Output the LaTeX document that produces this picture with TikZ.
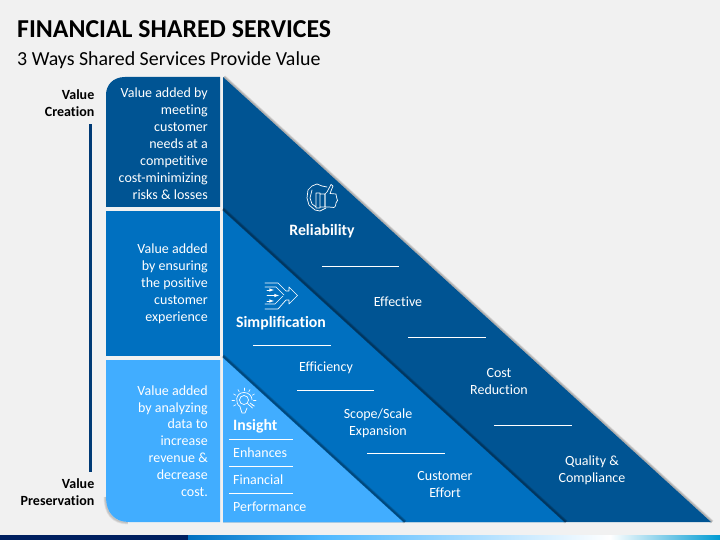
\documentclass[tikz,border=0pt]{standalone}
\usepackage{fontspec}
\setmainfont[Ligatures=NoCommon]{Carlito}
\usetikzlibrary{arrows}
\definecolor{pagegrey}{HTML}{F1F1F1}
\definecolor{darkblue}{HTML}{005493}
\definecolor{midblue}{HTML}{0070C0}
\definecolor{lightblue}{HTML}{41ADFF}
\definecolor{barblue}{HTML}{003A75}
\definecolor{navy}{HTML}{002060}

\begin{document}
\begin{tikzpicture}[x=1pt,y=-1pt]
  \tikzstyle{boxtext}=[text=white,align=right,anchor=east,inner sep=0pt,font=\fontsize{14}{16.9}\selectfont]
  \tikzstyle{celltext}=[text=white,align=center,inner sep=0pt,font=\fontsize{14}{16.9}\selectfont]
  \tikzstyle{headtext}=[text=white,inner sep=0pt,font=\fontsize{15.8}{18}\selectfont\bfseries]
  \tikzstyle{sidetext}=[text=black,align=right,anchor=east,inner sep=0pt,font=\fontsize{14}{16.9}\selectfont\bfseries]
  \tikzstyle{sepline}=[draw=white,line width=0.8pt]
  \tikzstyle{icon}=[draw=white,line width=0.7pt,line join=round,line cap=round]

  \useasboundingbox (0,0) rectangle (720,540);
  \fill[pagegrey] (0,0) rectangle (720,540);

  % title
  \node[anchor=west,inner sep=0pt,font=\fontsize{25.8}{30}\selectfont\bfseries] (title) at (17,29) {FINANCIAL SHARED SERVICES};
  \node[anchor=west,inner sep=0pt,font=\fontsize{19.9}{24}\selectfont] (subtitle) at (17,60) {3 Ways Shared Services Provide Value};

  % left boxes
  \fill[darkblue] (220,77) -- (125,77) .. controls (113,77) and (106,85) .. (106,95) -- (106,207) -- (220,207) -- cycle;
  \fill[midblue] (106,211) rectangle (220,356);
  \foreach \i in {1,...,4}
    \draw[black,opacity=0.05,line width=\i pt] (105.5,497) .. controls (105.5,513) and (113,522.5) .. (128,522.5);
  \fill[lightblue] (106,360) -- (220,360) -- (220,522) -- (129,522) .. controls (114,522) and (106,512) .. (106,497) -- cycle;

  % triangles, each with a soft shadow along its slope
  \foreach \i in {1,...,4}
    \draw[black,opacity=0.08,line width=\i pt] (224,77) -- (712,522);
  \fill[darkblue] (223,77) -- (711,522) -- (223,522) -- cycle;
  \foreach \i in {1,...,4}
    \draw[black,opacity=0.1,line width=\i pt] (223,209) -- (566,522);
  \fill[midblue] (223,211) -- (564,522) -- (223,522) -- cycle;
  \foreach \i in {1,...,4}
    \draw[black,opacity=0.1,line width=\i pt] (223,356) -- (405,522);
  \fill[lightblue] (223,358) -- (403,522) -- (223,522) -- cycle;

  % side scale
  \node[sidetext] (creation) at (94.5,103) {Value\\Creation};
  \node[sidetext] (preservation) at (94.5,492) {Value\\Preservation};
  \fill[barblue] (89,124) rectangle (92,472);

  % box texts
  \node[boxtext] (boxa) at (208,143.5) {Value added by\\meeting\\customer\\needs at a\\competitive\\cost-minimizing\\risks \& losses};
  \node[boxtext] (boxb) at (208,284) {Value added\\by ensuring\\the positive\\customer\\experience};
  \node[boxtext] (boxc) at (208,441) {Value added\\by analyzing\\data to\\increase\\revenue \&\\decrease\\cost.};

  % reliability
  \node[headtext] (reliability) at (322,231) {Reliability};
  \draw[sepline] (322,266.5) -- (399,266.5);
  \node[celltext] (effective) at (398,301.5) {Effective};
  \draw[sepline] (408,337.5) -- (486,337.5);
  \node[celltext] (cost) at (499,381.5) {Cost\\Reduction};
  \draw[sepline] (494,425) -- (572,425);
  \node[celltext] (quality) at (592,470) {Quality \&\\Compliance};

  % simplification
  \node[headtext] (simplification) at (281,323) {Simplification};
  \draw[sepline] (253,345) -- (331,345);
  \node[celltext] (efficiency) at (326,368) {Efficiency};
  \draw[sepline] (297,390.5) -- (374,390.5);
  \node[celltext] (scope) at (378,423) {Scope/Scale\\Expansion};
  \draw[sepline] (367,453) -- (445,453);
  \node[celltext] (effort) at (445,484.5) {Customer\\Effort};

  % insight
  \node[headtext,anchor=west] (insight) at (233,426) {Insight};
  \draw[sepline] (229,439.5) -- (293,439.5);
  \node[celltext,anchor=west] (enhances) at (233,452.5) {Enhances};
  \draw[sepline] (229,466.5) -- (293,466.5);
  \node[celltext,anchor=west] (financial) at (233,479.5) {Financial};
  \draw[sepline] (229,493.5) -- (293,493.5);
  \node[celltext,anchor=west] (performance) at (233,506.5) {Performance};

  % thumb icon
  \draw[icon] (331,184.5) -- (327,192) -- (325,194) -- (325,207) -- (329,207) -- (334,207.5) -- (335.5,206) -- (336,203) -- (337.5,200.5) -- (336.5,197) -- (336,194) -- (330,193.5) -- (333,186) -- cycle;
  \draw[icon] (317,184) -- (322,186) -- (327,187) (317,184) -- (312,186) -- (308,190) -- (307,198) -- (309,205) -- (315,210) -- (320,211) -- (326,208);
  \draw[icon] (312,190) -- (310,198) -- (312,204) -- (316,207) (316,193) rectangle (320,208) (320,194) rectangle (325,207);

  % arrows icon
  \draw[icon] (265,283) -- (278,283) -- (286,291) -- (289,291) -- (289,287) -- (297.5,295.5) -- (289,304) -- (289,300) -- (286,300) -- (278,309) -- (265,309);
  \draw[icon] (265,287) -- (276,287) -- (284,295);
  \draw[icon] (265,304) -- (275,304) -- (283,296);
  \draw[icon,-latex,line width=0.6pt] (267,290) -- (274,290);
  \draw[icon,-latex,line width=0.6pt] (267,295.5) -- (279,295.5);
  \draw[icon,-latex,line width=0.6pt] (267,301) -- (274,301);

  % bulb icon
  \draw[icon] (241,410) -- (240,406.5) .. controls (235,404) and (235,392.5) .. (244,392.5) .. controls (249,392.5) and (252,396) .. (252,400);
  \draw[icon] (241,410) -- (242,413) -- (245,413) -- (247,408);
  \draw[icon] (244,400) circle (4.5);
  \draw[icon] (247.5,403.5) -- (252.5,408) (250,403) -- (254,406);
  \foreach \a in {-210,-180,-150,-120,-90,-60,-30,0,30}
    \draw[icon,line width=0.6pt] (244,400) ++(\a:9.5) -- ++(\a:2.5);

  % bottom band
  \fill[navy] (0,535) rectangle (188,540);
  \shade[left color=midblue,right color=cyan!60!blue!70!white] (188,535) rectangle (320,540);
  \shade[left color=cyan!60!blue!70!white,right color=white] (320,535) rectangle (610,540);
  \shade[left color=white,right color=midblue!70!cyan] (610,535) rectangle (720,540);
\end{tikzpicture}
\end{document}
